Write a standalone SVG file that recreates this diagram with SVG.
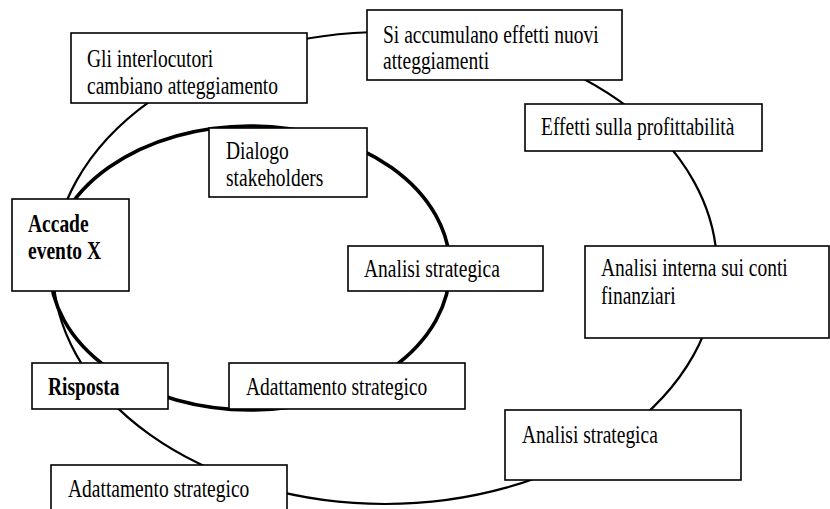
<svg xmlns="http://www.w3.org/2000/svg" width="830" height="509" viewBox="0 0 830 509">
<style>
  .box { fill: #ffffff; stroke: #000000; stroke-width: 1.6; }
  .t { font-family: "Liberation Serif", "Times New Roman", serif; font-size: 19.5px; fill: #000000; }
  .b { font-weight: bold; }
  .outer { fill: none; stroke: #000000; stroke-width: 2.2; }
  .inner { fill: none; stroke: #000000; stroke-width: 3.6; }
</style>
<rect x="0" y="0" width="830" height="509" fill="#ffffff"/>
<g id="connectors">
  <ellipse class="outer" cx="385" cy="268" rx="332" ry="236"/>
  <ellipse class="inner" cx="250" cy="268" rx="200" ry="142"/>
</g>
<g id="node-interlocutori">
  <rect class="box" x="71" y="33" width="236" height="70"/>
  <text class="t" transform="translate(87,67) scale(1,1.24)"><tspan x="0" y="0">Gli interlocutori</tspan><tspan x="0" y="21.8">cambiano atteggiamento</tspan></text>
</g>
<g id="node-accumulano">
  <rect class="box" x="367" y="10" width="255" height="70"/>
  <text class="t" transform="translate(383,43) scale(1,1.24)"><tspan x="0" y="0">Si accumulano effetti nuovi</tspan><tspan x="0" y="20.6">atteggiamenti</tspan></text>
</g>
<g id="node-profittabilita">
  <rect class="box" x="525" y="104" width="237" height="47"/>
  <text class="t" transform="translate(541,135) scale(1,1.24)">Effetti sulla profittabilità</text>
</g>
<g id="node-dialogo">
  <rect class="box" x="209" y="128" width="158" height="69"/>
  <text class="t" transform="translate(226,159) scale(1,1.24)"><tspan x="0" y="0">Dialogo</tspan><tspan x="0" y="21.8">stakeholders</tspan></text>
</g>
<g id="node-accade">
  <rect class="box" x="12" y="199" width="117" height="92"/>
  <text class="t b" transform="translate(28,232) scale(1,1.24)"><tspan x="0" y="0">Accade</tspan><tspan x="0" y="21.8">evento X</tspan></text>
</g>
<g id="node-analisi-inner">
  <rect class="box" x="348" y="246" width="195" height="45"/>
  <text class="t" transform="translate(364,277) scale(1,1.24)">Analisi strategica</text>
</g>
<g id="node-analisi-interna">
  <rect class="box" x="585" y="246" width="244" height="92"/>
  <text class="t" transform="translate(601,276) scale(1,1.24)"><tspan x="0" y="0">Analisi interna sui conti</tspan><tspan x="0" y="22.6">finanziari</tspan></text>
</g>
<g id="node-risposta">
  <rect class="box" x="32" y="363" width="136" height="46"/>
  <text class="t b" transform="translate(48,395) scale(1,1.24)">Risposta</text>
</g>
<g id="node-adattamento-inner">
  <rect class="box" x="229" y="363" width="236" height="46"/>
  <text class="t" transform="translate(246,395) scale(1,1.24)">Adattamento strategico</text>
</g>
<g id="node-analisi-outer">
  <rect class="box" x="505" y="410" width="236" height="70"/>
  <text class="t" transform="translate(522,443) scale(1,1.24)">Analisi strategica</text>
</g>
<g id="node-adattamento-outer">
  <rect class="box" x="51" y="465" width="236" height="55"/>
  <text class="t" transform="translate(68,497) scale(1,1.24)">Adattamento strategico</text>
</g>
</svg>
